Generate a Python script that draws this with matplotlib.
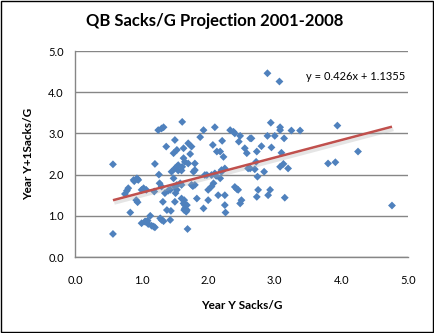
import matplotlib
matplotlib.use("Agg")
import matplotlib.pyplot as plt
import matplotlib.patheffects as pe
import numpy as np

# Year Y sacks per game vs. year Y+1 sacks per game, QBs 2001-2008
sacks_y = [
    0.57, 0.57, 0.78, 0.75, 0.89, 0.94, 0.83, 0.92, 0.94, 1.00, 1.07,
    1.20, 1.26, 1.27, 1.19, 1.00, 1.06, 1.09, 1.13, 1.18, 1.20, 1.28, 1.30,
    1.33, 1.37, 1.48, 1.50, 1.43, 1.38, 1.44, 1.32, 1.35, 1.40, 1.43, 1.45,
    1.50, 1.53, 1.55, 1.48, 1.51, 1.50, 1.63, 1.63, 1.65, 1.60, 1.64, 1.65,
    1.64, 1.67, 1.69, 1.70, 1.75, 1.73, 1.70, 1.80, 1.78, 1.77, 1.83, 1.93,
    1.95, 2.00, 2.05, 2.07, 2.13, 2.18, 2.23, 2.12, 2.08, 2.18, 2.15, 2.25,
    2.25, 2.25, 2.26, 2.45, 2.50, 2.48, 2.55, 2.58, 2.60, 1.25, 1.30, 1.33,
    1.61, 1.93, 2.10, 2.33, 2.38, 2.40, 2.48, 2.63, 1.88, 2.21, 2.89, 3.07,
    2.94, 3.08, 3.08, 3.25, 3.38, 3.94, 2.65, 2.89, 3.00, 3.14, 2.80, 2.95,
    2.46, 2.73, 3.10, 4.25, 3.80, 3.91, 2.72, 2.63, 2.70, 2.84, 2.74, 3.13,
    3.08, 3.20, 2.40, 2.75, 2.73, 2.93, 2.90, 3.15, 4.76, 0.80, 0.93, 1.03,
    0.88, 0.95, 1.30, 1.53, 1.58, 1.75, 1.80, 2.43, 1.98, 2.05, 2.10, 2.20,
    1.60, 1.68, 1.65, 1.63, 1.68, 1.50, 2.00, 1.55, 1.61, 1.53, 1.80, 2.20,
    1.15, 1.10, 1.05, 1.53, 1.60,
]
sacks_y1 = [
    2.25, 0.56, 1.61, 1.53, 1.84, 1.89, 1.08, 1.38, 1.33, 1.63, 1.63,
    2.26, 2.00, 1.79, 1.59, 0.82, 0.86, 0.88, 1.00, 0.74, 0.72, 0.94, 0.90,
    0.87, 2.68, 2.52, 2.84, 0.90, 1.14, 1.12, 1.34, 1.55, 1.61, 1.63, 2.07,
    2.15, 2.19, 2.23, 1.91, 1.55, 1.34, 2.64, 2.40, 2.31, 1.75, 1.38, 1.26,
    1.14, 1.10, 0.68, 2.76, 2.68, 2.50, 2.27, 2.27, 2.07, 1.72, 1.42, 1.18,
    1.99, 1.63, 1.71, 2.72, 2.56, 2.56, 2.43, 1.97, 1.79, 1.91, 1.50, 2.15,
    1.50, 1.26, 1.08, 1.63, 1.38, 1.30, 2.64, 2.52, 2.15, 3.08, 3.12, 3.15,
    3.28, 3.08, 3.15, 3.08, 3.04, 3.00, 2.94, 2.88, 2.91, 2.82, 4.46, 4.26,
    3.26, 3.15, 3.08, 3.07, 3.07, 3.19, 2.88, 2.94, 2.94, 2.88, 2.69, 2.66,
    2.80, 2.56, 2.53, 2.56, 2.27, 2.30, 2.31, 2.15, 2.13, 2.07, 1.95, 2.26,
    2.19, 2.15, 1.70, 1.63, 1.46, 1.63, 1.50, 1.44, 1.25, 1.67, 1.91, 1.67,
    1.87, 1.87, 1.71, 1.75, 1.79, 1.75, 1.75, 1.65, 1.99, 1.99, 2.03, 2.07,
    1.42, 1.26, 1.18, 1.30, 1.14, 1.71, 1.38, 2.10, 2.19, 1.63, 2.11, 2.11,
    0.76, 0.80, 0.86, 2.60, 2.10,
]

# Linear trendline coefficients
slope = 0.426
intercept = 1.1355

x_ticks = [0.0, 1.0, 2.0, 3.0, 4.0, 5.0]
y_ticks = [0.0, 1.0, 2.0, 3.0, 4.0, 5.0]

FONT = "Lato"
AXIS_GREY = "#868686"

fig = plt.figure(figsize=(4.34, 3.33), dpi=100)
ax = fig.add_axes([0.1728, 0.2282, 0.7672, 0.6186])

ax.scatter(sacks_y, sacks_y1, marker="D", s=16, color="#4F81BD",
           edgecolors="none", zorder=3)

xs = np.array([min(sacks_y), max(sacks_y)])
ax.plot(xs, slope * xs + intercept, color="#C0504D", lw=1.8, zorder=4,
        solid_capstyle="butt",
        path_effects=[pe.SimpleLineShadow(offset=(1, -2), shadow_color="#aaaaaa",
                                          alpha=0.3, linewidth=2.5),
                      pe.Normal()])

ax.text(4.22, 4.37, f"y = {slope}x + {intercept}", ha="center", va="center",
        fontsize=8, family=FONT)

ax.set_xlim(0, 5)
ax.set_ylim(0, 5)
ax.set_xticks(x_ticks)
ax.set_yticks(y_ticks)
ax.set_xticklabels([f"{t:.1f}" for t in x_ticks])
ax.set_yticklabels([f"{t:.1f}" for t in y_ticks])
ax.tick_params(length=0, labelsize=8, pad=13)
ax.tick_params(axis="y", pad=8)
for lbl in ax.get_xticklabels() + ax.get_yticklabels():
    lbl.set_family(FONT)

ax.grid(axis="y", color=AXIS_GREY, lw=1)
ax.set_axisbelow(True)
for side in ("top", "right"):
    ax.spines[side].set_visible(False)
for side in ("left", "bottom"):
    ax.spines[side].set_color(AXIS_GREY)
    ax.spines[side].set_linewidth(1)

ax.set_xlabel("Year Y Sacks/G", fontsize=8.5, fontweight="bold", family=FONT,
              labelpad=10)
ax.set_ylabel("Year Y+1Sacks/G", fontsize=8.5, fontweight="bold", family=FONT,
              labelpad=10)

fig.text(0.495, 0.938, "QB Sacks/G Projection 2001-2008", ha="center", va="center",
         fontsize=12, fontweight="bold", family=FONT)

# chart border
fig.patches.append(plt.Rectangle((0.002, 0.003), 0.995, 0.994, transform=fig.transFigure,
                                 fill=False, edgecolor="black", lw=1))

fig.savefig("out.png", dpi=100)
